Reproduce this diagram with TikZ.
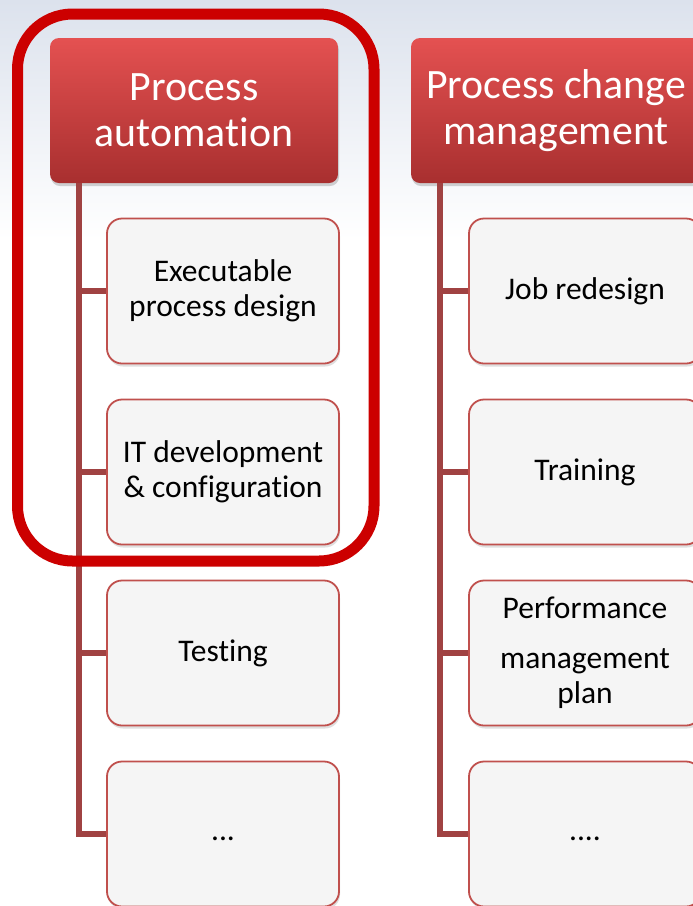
\documentclass[tikz,border=0pt]{standalone}
\usepackage{fontspec}
\setmainfont{Carlito}[Ligatures=CommonOff]
\usetikzlibrary{shadows}

\definecolor{bgTop}{HTML}{DCE2ED}
\definecolor{hdrTop}{HTML}{E45151}
\definecolor{hdrMid}{HTML}{D04242}
\definecolor{hdrBot}{HTML}{A82F2F}
\definecolor{boxLine}{HTML}{C0504D}
\definecolor{boxFill}{HTML}{F5F5F5}
\definecolor{trunk}{HTML}{A04242}
\definecolor{hilite}{HTML}{CC0000}

\begin{document}
\begin{tikzpicture}[x=1pt, y=-1pt,
    header/.style={rectangle, rounded corners=9pt, minimum width=288pt, minimum height=145pt,
        top color=hdrTop, middle color=hdrMid, bottom color=hdrBot, text=white, align=center,
        font=\fontsize{41.8}{46}\selectfont,
        drop shadow={opacity=0.35, shadow xshift=1pt, shadow yshift=-3pt}},
    task/.style={rectangle, rounded corners=15pt, draw=boxLine, line width=1.8pt, fill=boxFill,
        minimum width=232pt, minimum height=145pt, align=center,
        font=\fontsize{31.5}{35}\selectfont,
        drop shadow={opacity=0.25, shadow xshift=1pt, shadow yshift=-3pt}},
    branch/.style={draw=trunk, line width=5.5pt}]

    % Background
    \useasboundingbox (0,0) rectangle (693,906);
    \fill[white] (0,0) rectangle (693,906);
    \fill[top color=bgTop, bottom color=white] (0,0) rectangle (693,240);

    % Draw headers
    \node (hA) at (194,110.5) [header] {Process\\automation};
    \node (hB) at (556,110.5) [header, minimum width=290pt] {Process change\\management};

    % Draw tasks
    \node (a1) at (223,291) [task] {Executable\\process design};
    \node (a2) at (223,472) [task] {IT development\\\& configuration};
    \node (a3) at (223,653) [task] {Testing};
    \node (a4) at (223,834) [task] {\raisebox{-6pt}[0pt][0pt]{...}};
    \node (b1) at (585,291) [task] {Job redesign};
    \node (b2) at (585,472) [task] {Training};
    \node (b3) at (585,653) [task] {Performance\\[15pt]management\\plan};
    \node (b4) at (585,834) [task] {\raisebox{-6pt}[0pt][0pt]{....}};

    % Draw trunks and branches
    \coordinate (tA) at (79,183);
    \coordinate (tB) at (440,183);
    \draw[branch] (tA) |- (a4.west);
    \draw[branch] (tB) |- (b4.west);
    \foreach \i in {1,2,3} {
        \draw[branch] (tA |- a\i.west) -- (a\i.west);
        \draw[branch] (tB |- b\i.west) -- (b\i.west);
    }

    % Highlight round the first column
    \draw[hilite, line width=11pt, rounded corners=55pt] (17.5,14) rectangle (374,561);

\end{tikzpicture}
\end{document}
